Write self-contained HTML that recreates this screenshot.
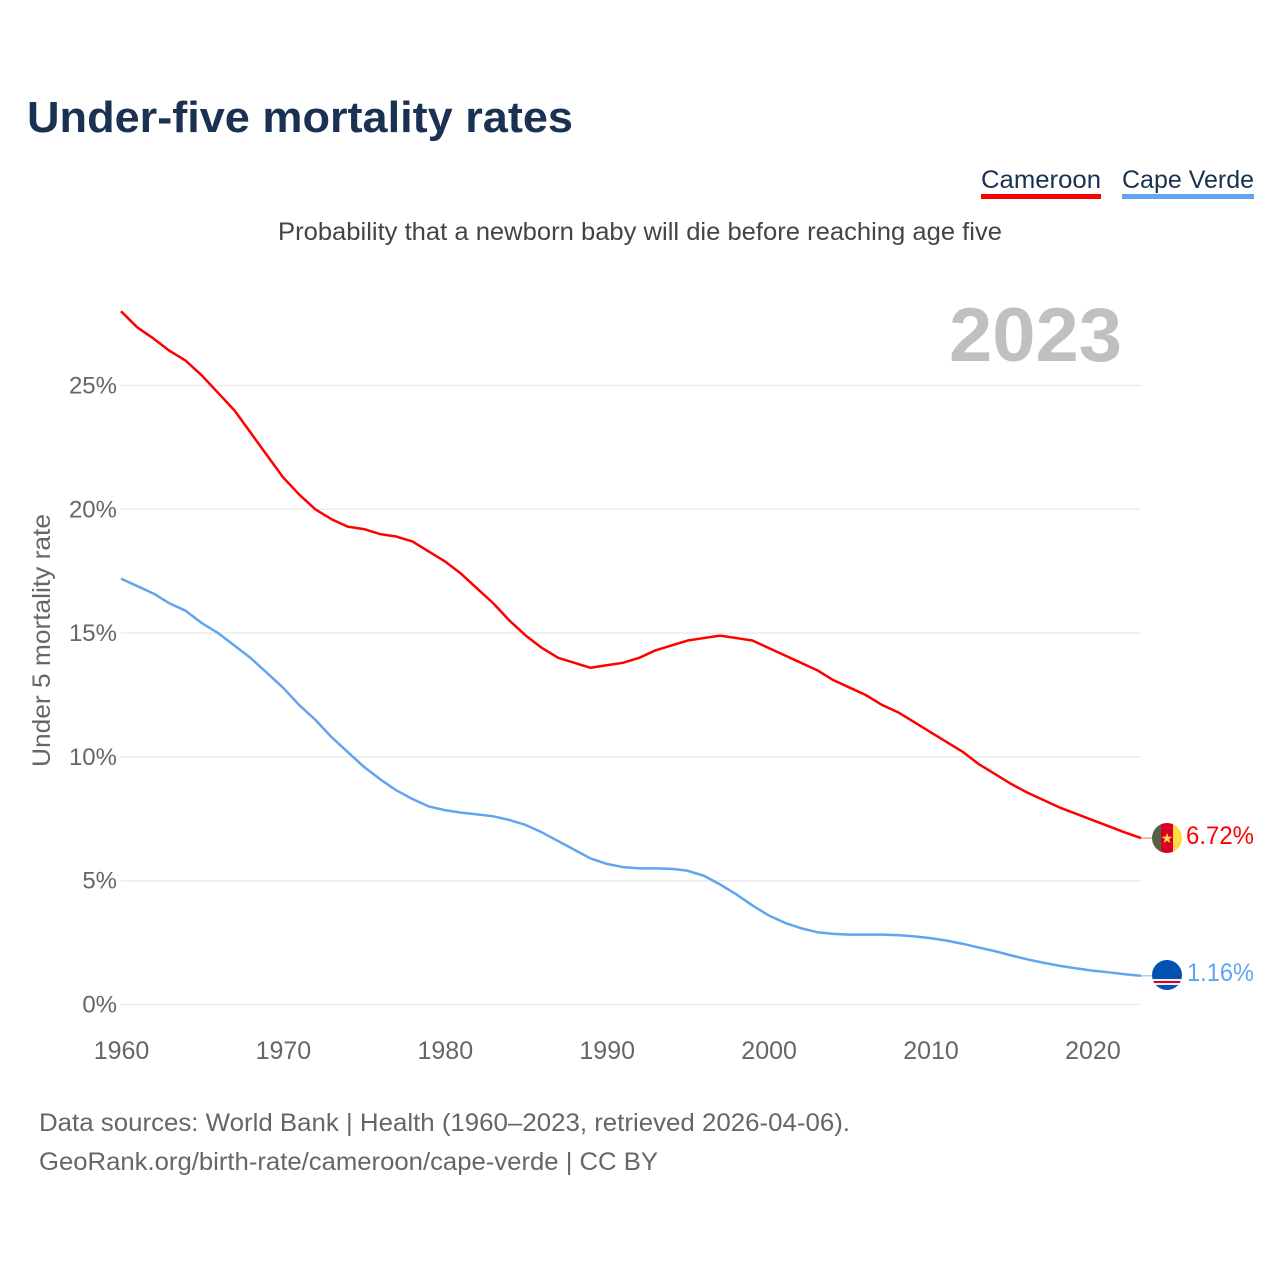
<!DOCTYPE html>
<html>
<head>
<meta charset="utf-8">
<style>
html,body{margin:0;padding:0;background:#fff}
svg{display:block}
text{font-family:"Liberation Sans",sans-serif}
</style>
</head>
<body>
<svg id="chart" xmlns="http://www.w3.org/2000/svg" width="1280" height="1280" viewBox="0 0 1280 1280">
<defs>
<clipPath id="clip-cm"><circle cx="1167" cy="838" r="15"/></clipPath>
<clipPath id="clip-cv"><circle cx="1167" cy="975" r="15"/></clipPath>
</defs>
<rect width="1280" height="1280" fill="#fff"/>
<text x="27" y="132" font-size="44" font-weight="700" fill="#1a3152" textLength="546" lengthAdjust="spacingAndGlyphs">Under-five mortality rates</text>
<g>
<text x="981" y="188" font-size="25" fill="#1a3152" textLength="120" lengthAdjust="spacingAndGlyphs">Cameroon</text>
<rect x="981" y="194" width="120" height="5" fill="#ff0000"/>
</g>
<g>
<text x="1122" y="188" font-size="25" fill="#1a3152" textLength="132" lengthAdjust="spacingAndGlyphs">Cape Verde</text>
<rect x="1122" y="194" width="132" height="5" fill="#60a5ee"/>
</g>
<text x="278" y="240" font-size="25" fill="#444" textLength="724" lengthAdjust="spacingAndGlyphs">Probability that a newborn baby will die before reaching age five</text>
<text x="949" y="361" font-size="76" font-weight="700" fill="#c0c0c0" textLength="173" lengthAdjust="spacingAndGlyphs">2023</text>
<g id="grid"></g>
<g id="yticks"></g>
<g id="xticks"></g>
<text transform="translate(50,767) rotate(-90)" font-size="25" fill="#666" textLength="253" lengthAdjust="spacingAndGlyphs">Under 5 mortality rate</text>
<path id="line-cameroon" fill="none" stroke="#ff0000" stroke-width="2.5" stroke-linejoin="round"/>
<path id="line-cape-verde" fill="none" stroke="#60a5ee" stroke-width="2.5" stroke-linejoin="round"/>
<line id="conn-cameroon" x1="1141" x2="1152" stroke="#ff9a9a" stroke-width="1.5"/>
<line id="conn-cape-verde" x1="1141" x2="1152" stroke="#a8cdf5" stroke-width="1.5"/>
<g clip-path="url(#clip-cm)">
<rect x="1152" y="823" width="9" height="30" fill="#556144"/>
<rect x="1161" y="823" width="12" height="30" fill="#d80027"/>
<rect x="1173" y="823" width="9" height="30" fill="#ffda44"/>
<text x="1167" y="843" font-size="14" fill="#ffda44" text-anchor="middle" font-family="DejaVu Sans">★</text>
</g>
<g clip-path="url(#clip-cv)">
<rect x="1152" y="960" width="30" height="30" fill="#0052b4"/>
<rect x="1152" y="979" width="30" height="6" fill="#f0f0f0"/>
<rect x="1152" y="981" width="30" height="2" fill="#d80027"/>
</g>
<text id="value-cameroon" x="1186" y="844" font-size="25" fill="#ff0000" textLength="68" lengthAdjust="spacingAndGlyphs"></text>
<text id="value-cape-verde" x="1187" y="981" font-size="25" fill="#60a5ee" textLength="67" lengthAdjust="spacingAndGlyphs"></text>
<text x="39" y="1131" font-size="25" fill="#666" textLength="811" lengthAdjust="spacingAndGlyphs">Data sources: World Bank | Health (1960–2023, retrieved 2026-04-06).</text>
<text x="39" y="1170" font-size="25" fill="#666" textLength="619" lengthAdjust="spacingAndGlyphs">GeoRank.org/birth-rate/cameroon/cape-verde | CC BY</text>
</svg>
<script>
const startYear = 1960;
const xTickLabels = [1960, 1970, 1980, 1990, 2000, 2010, 2020];
const yTickLabels = [0, 5, 10, 15, 20, 25];
const cameroon = [28.0,27.35,26.9,26.4,26.0,25.4,24.7,24.0,23.1,22.2,21.3,20.6,20.0,19.6,19.3,19.2,19.0,18.9,18.7,18.3,17.9,17.4,16.8,16.2,15.5,14.9,14.4,14.0,13.8,13.6,13.7,13.8,14.0,14.3,14.5,14.7,14.8,14.9,14.8,14.7,14.4,14.1,13.8,13.5,13.1,12.8,12.5,12.1,11.8,11.4,11.0,10.6,10.2,9.7,9.3,8.9,8.55,8.25,7.95,7.7,7.45,7.2,6.95,6.72];
const capeVerde = [17.2,16.9,16.6,16.2,15.9,15.4,15.0,14.5,14.0,13.4,12.8,12.1,11.5,10.8,10.2,9.6,9.1,8.65,8.3,8.0,7.85,7.75,7.68,7.6,7.45,7.25,6.95,6.6,6.25,5.9,5.68,5.55,5.5,5.5,5.48,5.4,5.2,4.85,4.45,4.0,3.6,3.3,3.08,2.92,2.85,2.82,2.82,2.82,2.8,2.75,2.68,2.58,2.45,2.3,2.15,1.98,1.82,1.68,1.56,1.46,1.37,1.3,1.22,1.16];

const NS = 'http://www.w3.org/2000/svg';
const xScale = function (year) { return 121 + (year - 1960) * (1020 / 63); };
const yScale = function (v) { return 1004.5 - v * 24.76; };

const gridGroup = document.getElementById('grid');
const yGroup = document.getElementById('yticks');
const xGroup = document.getElementById('xticks');

yTickLabels.forEach(function (v) {
  const g = document.createElementNS(NS, 'line');
  
  
  g.setAttribute('x1', 121);
  g.setAttribute('x2', 1141);
  g.setAttribute('y1', yScale(v));
  g.setAttribute('y2', yScale(v));
  g.setAttribute('stroke', '#ebebeb');
  g.setAttribute('stroke-width', '1.5');
  gridGroup.appendChild(g);
  const t = document.createElementNS(NS, 'text');
  
  
  t.setAttribute('x', 117);
  t.setAttribute('y', yScale(v) + 8);
  t.setAttribute('font-size', '24');
  t.setAttribute('fill', '#666');
  t.setAttribute('text-anchor', 'end');
  t.textContent = v + '%';
  yGroup.appendChild(t);
});

xTickLabels.forEach(function (year) {
  const t = document.createElementNS(NS, 'text');
  
  
  t.setAttribute('x', xScale(year) + 0.5);
  t.setAttribute('y', 1059);
  t.setAttribute('font-size', '25');
  t.setAttribute('fill', '#666');
  t.setAttribute('text-anchor', 'middle');
  t.textContent = year;
  xGroup.appendChild(t);
});

function linePath(values) {
  return values.map(function (v, i) {
    return (i ? 'L' : 'M') + xScale(startYear + i).toFixed(2) + ' ' + yScale(v).toFixed(2);
  }).join(' ');
}
document.getElementById('line-cameroon').setAttribute('d', linePath(cameroon));
document.getElementById('line-cape-verde').setAttribute('d', linePath(capeVerde));

const lastCm = cameroon[cameroon.length - 1];
const lastCv = capeVerde[capeVerde.length - 1];
const connCm = document.getElementById('conn-cameroon');
connCm.setAttribute('y1', yScale(lastCm));
connCm.setAttribute('y2', yScale(lastCm));
const connCv = document.getElementById('conn-cape-verde');
connCv.setAttribute('y1', yScale(lastCv));
connCv.setAttribute('y2', yScale(lastCv));
document.getElementById('value-cameroon').textContent = lastCm.toFixed(2) + '%';
document.getElementById('value-cape-verde').textContent = lastCv.toFixed(2) + '%';
</script>
</body>
</html>
